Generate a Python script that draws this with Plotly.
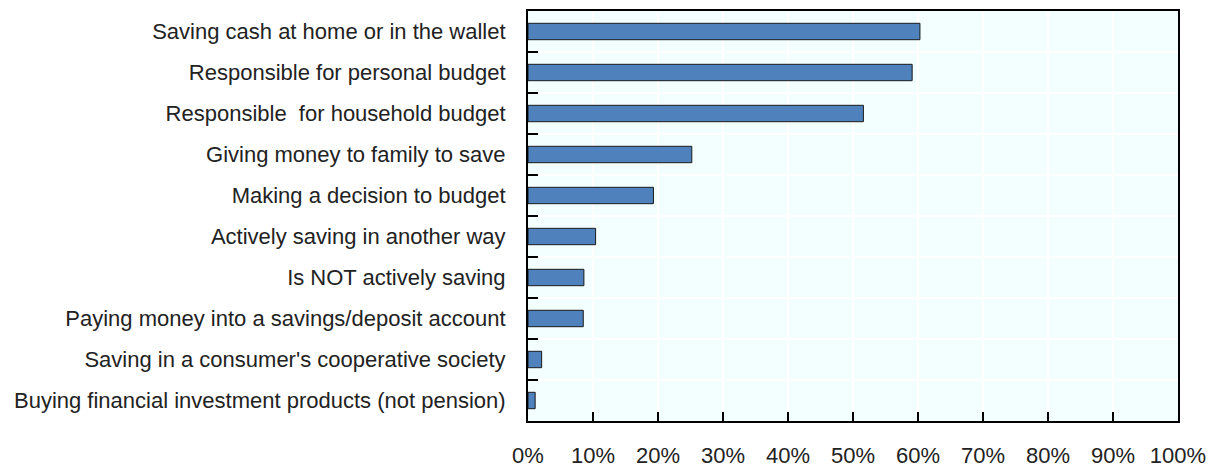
import plotly.graph_objects as go

categories = [
    "Saving cash at home or in the wallet",
    "Responsible for personal budget",
    "Responsible  for household budget",
    "Giving money to family to save",
    "Making a decision to budget",
    "Actively saving in another way",
    "Is NOT actively saving",
    "Paying money into a savings/deposit account",
    "Saving in a consumer's cooperative society",
    "Buying financial investment products (not pension)",
]
values = [60.3, 59.1, 51.6, 25.2, 19.3, 10.4, 8.6, 8.5, 2.1, 1.1]
x_ticks = list(range(0, 101, 10))
x_tick_labels = [f"{t}%" for t in x_ticks]

fig = go.Figure(
    go.Bar(
        x=values,
        y=categories,
        orientation="h",
        marker=dict(color="#4F81BD", line=dict(color="#1a1a1a", width=1)),
        width=0.4,
    )
)

fig.update_layout(
    width=1208,
    height=461,
    margin=dict(l=520, r=38, t=1, b=45),
    plot_bgcolor="#F3FFFF",
    paper_bgcolor="white",
    font=dict(family="Liberation Sans, Arial, sans-serif", size=22, color="#222222"),
    showlegend=False,
    bargap=0.6,
)

fig.update_xaxes(
    range=[0, 100],
    tickvals=x_ticks,
    ticktext=x_tick_labels,
    ticks="inside",
    ticklen=9,
    tickwidth=2,
    tickcolor="black",
    showgrid=True,
    gridcolor="white",
    gridwidth=1.5,
    showline=True,
    linecolor="black",
    linewidth=2,
    mirror=True,
    zeroline=False,
    ticklabelstandoff=14,
)

fig.update_yaxes(
    categoryorder="array",
    categoryarray=categories[::-1],
    autorange=False,
    range=[-0.5, len(categories) - 0.5],
    ticks="inside",
    tickson="boundaries",
    ticklen=10,
    tickwidth=2,
    tickcolor="black",
    showgrid=True,
    gridcolor="white",
    gridwidth=1.5,
    showline=True,
    linecolor="black",
    linewidth=2,
    mirror=True,
    ticklabelstandoff=16,
)

fig.write_html("out.html")
